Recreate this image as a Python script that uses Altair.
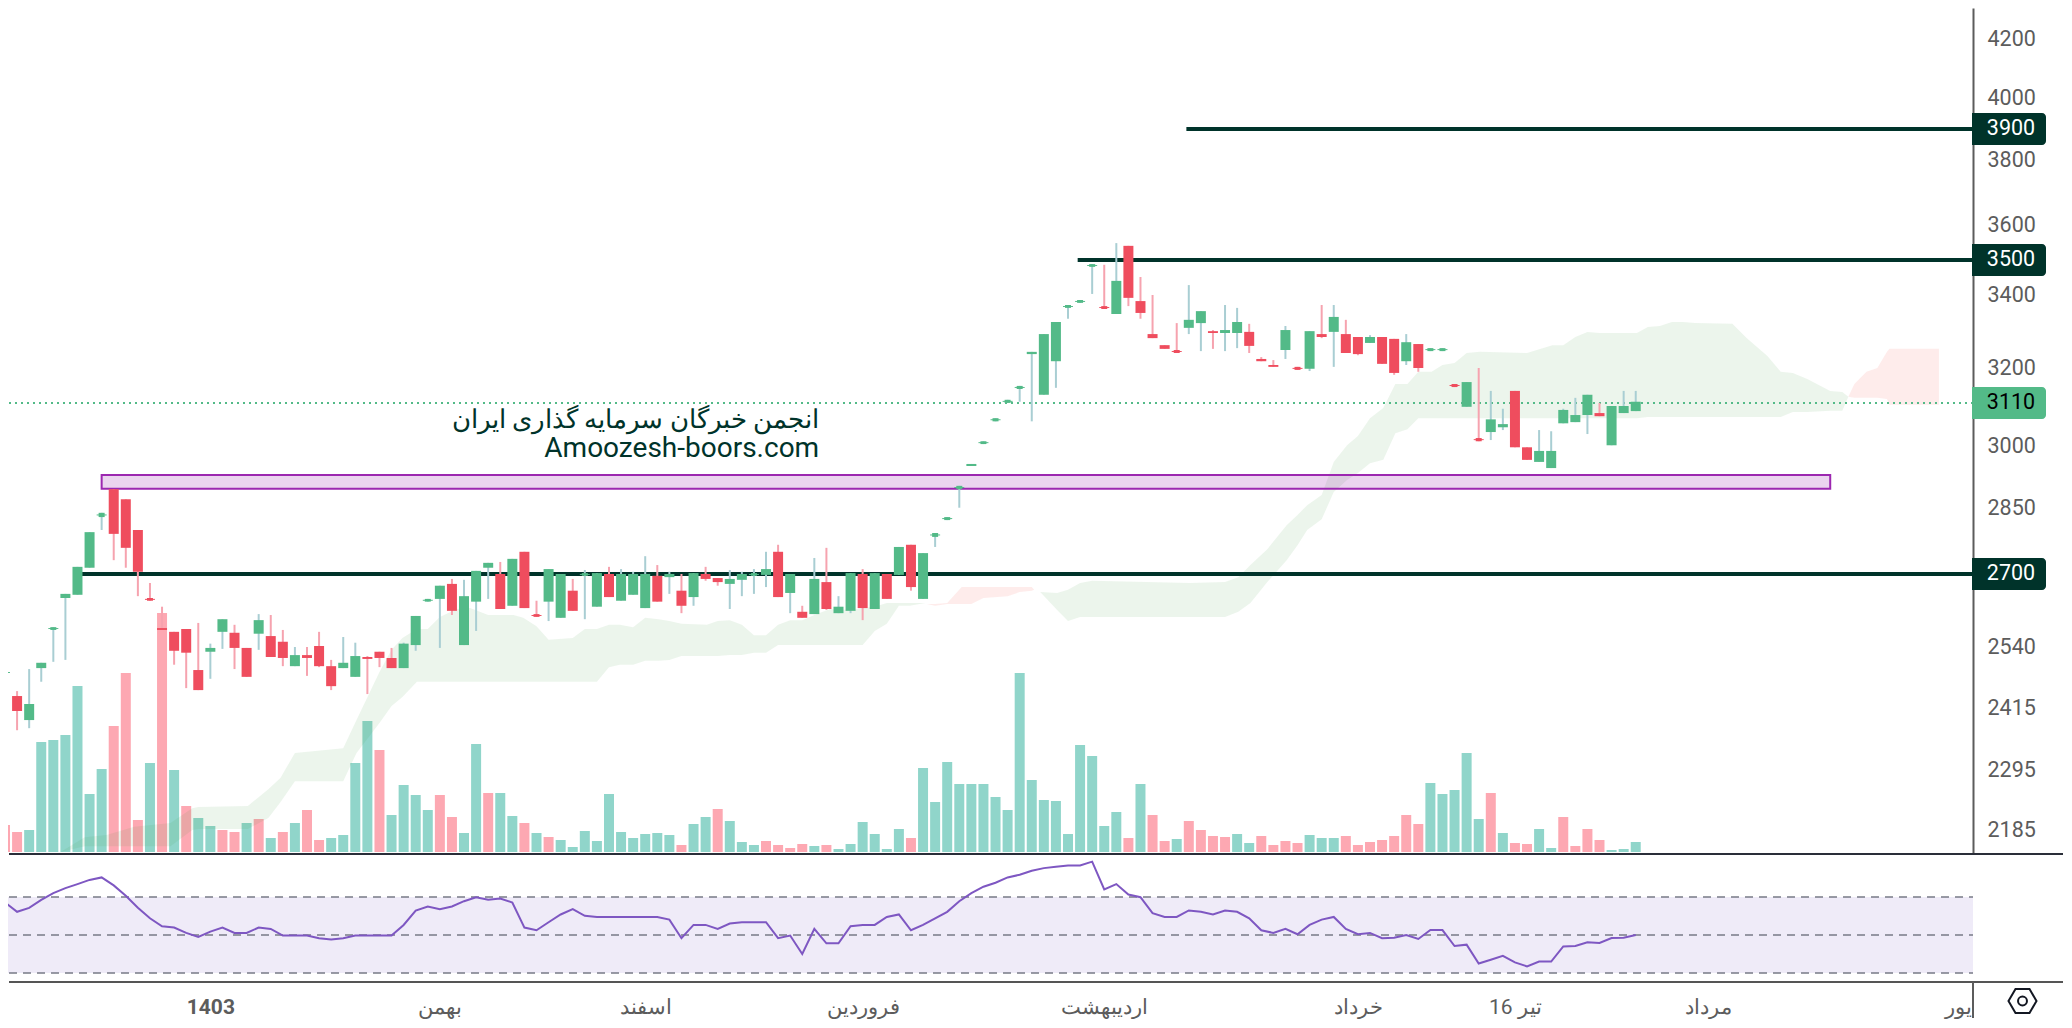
import json
import altair as alt
import pandas as pd

# ---- candles (daily prices) ----
open_ = [2486,2441,2393,2498,2578,2647,2654,2714,2830,2896,2872,2800,2647,2582,2574,2580,2494,2532,2574,2572,
         2540,2570,2565,2553,2502,2525,2544,2502,2498,2480,2521,2532,2519,2498,2546,2639,2645,2678,2546,2639,
         2714,2700,2630,2750,2612,2639,2604,2663,2696,2628,2700,2641,2654,2625,2696,2693,2663,2649,2700,2691,
         2678,2687,2696,2698,2750,2658,2617,2612,2682,2614,2619,2700,2623,2700,2698,2766,2645,2784,2823,2896,
         2952,3006,3063,3110,3146,3238,3131,3219,3364,3378,3480,3369,3347,3541,3383,3292,3262,3249,3309,3322,
         3300,3295,3295,3298,3225,3209,3249,3204,3199,3292,3298,3292,3284,3268,3284,3279,3219,3265,3246,3246,
         3159,3100,3021,3036,3048,3141,2998,2962,2947,3058,3061,3079,3084,3003,3084,3089]
close = [2492,2411,2425,2509,2584,2656,2716,2795,2840,2791,2759,2705,2641,2578,2534,2530,2453,2540,2601,2540,
         2480,2599,2521,2519,2525,2519,2502,2461,2509,2523,2517,2519,2498,2549,2608,2645,2674,2619,2651,2707,
         2725,2623,2734,2625,2606,2711,2700,2619,2702,2702,2649,2700,2700,2700,2639,2700,2630,2702,2689,2682,
         2689,2700,2702,2711,2649,2700,2604,2689,2623,2628,2702,2625,2702,2645,2761,2671,2747,2793,2830,2904,
         2957,3013,3071,3118,3154,3244,3292,3325,3372,3386,3488,3361,3440,3392,3350,3281,3252,3241,3331,3355,
         3295,3303,3325,3260,3219,3204,3303,3196,3300,3284,3339,3241,3238,3284,3212,3188,3270,3201,3254,3254,
         3151,3164,3013,3068,3056,2998,2967,2989,2989,3092,3079,3131,3076,3102,3102,3113]
high = [2500,2451,2496,2509,2584,2656,2716,2795,2840,2896,2872,2800,2680,2628,2574,2580,2593,2549,2601,2589,
        2540,2612,2610,2578,2542,2542,2574,2515,2563,2551,2523,2532,2540,2551,2608,2645,2674,2689,2687,2707,
        2725,2727,2734,2750,2641,2711,2700,2689,2709,2702,2716,2711,2705,2740,2720,2705,2700,2702,2716,2691,
        2709,2705,2711,2750,2766,2700,2630,2736,2759,2651,2702,2711,2702,2700,2761,2766,2747,2793,2830,2904,
        2957,3013,3071,3118,3154,3244,3292,3325,3372,3386,3488,3486,3549,3541,3451,3400,3262,3322,3428,3355,
        3303,3372,3364,3320,3230,3222,3314,3204,3300,3372,3372,3331,3284,3289,3284,3279,3292,3265,3254,3254,
        3159,3164,3201,3141,3095,3141,2998,3041,3038,3095,3123,3131,3110,3102,3141,3141]
low = [2405,2373,2377,2470,2511,2515,2654,2714,2800,2731,2714,2651,2641,2578,2505,2457,2453,2476,2538,2496,
       2480,2536,2521,2502,2502,2482,2500,2453,2498,2480,2445,2500,2498,2498,2534,2639,2540,2610,2546,2576,
       2645,2623,2630,2625,2606,2597,2604,2619,2601,2628,2649,2641,2654,2625,2639,2656,2614,2630,2685,2674,
       2623,2651,2656,2671,2649,2614,2604,2612,2621,2614,2614,2599,2623,2645,2698,2663,2645,2761,2823,2852,
       2952,3006,3063,3110,3113,3063,3131,3149,3334,3378,3403,3361,3347,3369,3334,3281,3252,3241,3292,3246,
       3252,3246,3254,3241,3219,3204,3225,3196,3193,3281,3204,3241,3235,3268,3212,3183,3209,3191,3246,3246,
       3151,3100,3013,3016,3041,2998,2967,2962,2947,3058,3061,3031,3076,3003,3084,3089]
doji_days = [0,4,8,12,35,44,48,62,77,78,79,81,82,83,84,88,89,90,91,97,107,118,119,120,122]

# ---- volume (arbitrary units, only proportions are visible) ----
volume = [27,20,22,110,112,117,166,58,83,126,179,32,89,239,82,46,34,26,22,20,29,33,14,20,29,42,12,14,17,89,
          131,102,37,67,57,42,57,35,19,108,59,59,36,29,19,15,12,5,21,11,58,20,14,18,19,17,7,28,
          35,43,31,10,7,11,7,4,8,6,7,3,8,30,18,3,23,14,84,50,90,68,68,68,55,42,179,72,52,51,18,107,96,26,40,14,
          68,37,11,13,31,22,16,15,18,9,16,7,11,9,17,14,14,16,7,10,12,16,
          37,28,69,58,62,99,33,59,19,9,8,23,4,35,6,23,12,2,3,10]
volume_side = list("rrgggggggr" "rrgrgrggrr" "grgrgrrggg" "grggggrrgg" "rggrgrgggg" "ggggggrggr"
                   "gggrrrrgrg" "gggggrgggg" "gggggggggg" "gggrgrrgrr" "rrggrrrrgg" "grrrrrrrgg"
                   "gggrgrrggr" "rrrggg")

# ---- RSI ----
rsi = [67.1,62.2,64.3,68.5,72,74.7,76.8,79,80.3,76.1,70.6,64.3,58.8,54.6,53.9,51.1,49,51.8,53.9,51.1,
       51.1,53.9,53.2,49.7,49.7,49.7,48.3,47.6,48.3,49.7,49.7,49.7,49.7,55.3,62.9,65,63.6,65,67.8,69.9,
       68.5,69.2,67.1,53.9,52.5,56.7,60.8,63.6,60.1,59.5,59.5,59.5,59.5,59.5,59.5,58.1,48.3,55.3,55.3,53.2,
       56,56.7,56.7,56.7,48.3,49.7,40,53.2,45.6,45.6,54.6,55.3,55.3,59.5,60.8,52.5,55.3,58.8,62.2,67.8,
       72,75.4,77.5,80.3,81.7,83.8,85.2,85.9,86.6,86.6,88.6,74,76.8,71.3,69.9,61.5,59.5,59.5,62.9,62.2,
       60.8,62.9,62.2,58.8,52.5,51.1,53.2,50.4,55.3,58.1,59.5,53.2,50.4,51.1,48.3,48.6,50,47.9,52.6,52.6,
       44.2,44.9,35,37,39,35.6,33.5,36,36,44,44.2,46.2,45.8,48.4,48.6,50]

# ---- cloud outlines (bar position, upper span, lower span) ----
green1_x = [4.6,6.6,8.4,10.7,13.7,15.5,16,20.1,21.8,22.8,24,28,29.1,31,32,32.9,34.1,35,36,37.4,38.5,40,42.1,42.9,44,45,47,48,49,
            50,50.9,52,53,54.1,55,56,58.1,59,60,61,62,63,64,65,66,67,68.3,70,71,72,73,74,74.9,75.7,76.2]
green1_top = [2146,2172,2176,2191,2198,2225,2227,2229,2260,2281,2329,2338,2393,2490,2536,2561,2580,2580,2606,2623,2625,2610,2610,2604,2586,2557,2561,2580,2580,
              2589,2589,2584,2604,2601,2597,2591,2589,2597,2599,2589,2567,2567,2589,2599,2599,2610,2623,2621,2625,2628,2636,2636,2636,2636,2634]
green1_bot = [2146,2156,2156,2156,2156,2185,2187,2187,2207,2236,2275,2275,2329,2387,2421,2439,2470,2470,2470,2470,2470,2470,2470,2470,2470,2470,2470,2470,2470,
              2500,2505,2505,2513,2513,2515,2523,2523,2523,2525,2525,2530,2530,2546,2546,2546,2546,2546,2546,2546,2576,2591,2630,2630,2634,2634]
pink1_x = [76.3,77,78,79.2,80,81,83,84,85,85.2]
pink1_top = [2634,2634,2636,2671,2671,2671,2671,2671,2671,2665]
pink1_bot = [2634,2630,2634,2634,2634,2647,2651,2660,2663,2665]
green2_x = [85.7,87.1,88,89,90,98.1,101,102.1,103.1,104.5,106.1,107,107.8,109,110,111.1,112,113,114.1,115.1,116.1,117,118.1,119,120,121,
            122.1,126,128.1,129,130,131,132,135.1,136,137,138,138.9,139.9,143,144.2,145.9,147,148,149.2,151.1,152.1,152.6]
green2_top = [2660,2658,2665,2680,2685,2680,2682,2693,2720,2756,2811,2835,2858,2882,2962,3003,3026,3071,3097,3159,3159,3191,3191,3209,3214,3241,
              3244,3241,3262,3262,3284,3298,3295,3295,3311,3314,3325,3325,3322,3320,3281,3233,3191,3188,3172,3141,3138,3126]
green2_bot = [2660,2621,2597,2606,2606,2606,2606,2617,2636,2682,2731,2765,2800,2825,2889,2918,2935,2959,2967,3033,3043,3071,3071,3071,3071,3071,
              3071,3071,3071,3071,3071,3071,3071,3071,3074,3074,3074,3074,3074,3074,3074,3074,3074,3087,3087,3090,3090,3126]
pink2_x = [152.6,153.1,154.1,155,155.8,156,160.1]
pink2_top = [3126,3159,3191,3201,3244,3252,3252]
pink2_bot = [3126,3123,3123,3123,3120,3105,3105]

# ---- drawings ----
zone_span = [8, 151.1]
zone_prices = [2897, 2930]
levels = [2700, 3500, 3900]
level_starts = [6, 88.8, 97.8]
last_price = [3110]
price_ticks = [4200,4000,3800,3600,3400,3200,3000,2850,2540,2415,2295,2185]
rsi_ticks = [40, 80]
rsi_bands = [30, 50, 70]
month_pos = [17, 36, 53, 71, 91, 112, 125, 141, 161.7]
month_labels = ["1403", "بهمن", "اسفند", "فروردین", "اردیبهشت", "خرداد", "16 تیر", "مرداد", "یور"]
note_lines = ["انجمن خبرگان سرمایه گذاری ایران", "Amoozesh-boors.com"]
note_prices = [3046, 2974]
note_pos = [67.4, 67.4]
note_sizes = [25.8, 28]

# ---- style ----
W, H1, H2 = 1965, 846, 128
RIGHT_END = 2055
GREEN, RED = "#53BA88", "#EF4D5E"
GREEN_W, RED_W = "#A9CED3", "#F6A3AF"
GREEN_V, RED_V = "#90D5CA", "#FDA8B2"
DARK = "#00332A"
AXC = "#5C5C5C"
FONT = "Roboto"

x_scale = alt.Scale(domain=[0.248, 162.92], nice=False, zero=False, padding=0)
p_scale = alt.Scale(type="log", domain=[2142.3, 4310], nice=False)
X = lambda f: alt.X(f, type="quantitative", scale=x_scale, axis=None)
Y = lambda f, axis=None: alt.Y(f, type="quantitative", scale=p_scale, axis=axis)

cd = pd.DataFrame({"i": range(len(open_)), "o": open_, "c": close, "h": high, "l": low})
cd["up"] = cd.c >= cd.o
cd["top"] = cd[["o", "c"]].max(axis=1)
cd["bot"] = cd[["o", "c"]].min(axis=1)
cd["doji"] = cd.i.isin(doji_days)
cd["mid"] = (cd.o + cd.c) / 2
cd["m1"] = cd.mid * 1.0004
cd["m0"] = cd.mid * 0.9996
up, dn, doji, plain = cd[cd.up], cd[~cd.up], cd[cd.doji], cd[~cd.doji]

vd = pd.DataFrame({"i": range(len(volume)), "v": volume, "s": volume_side})
v_y = alt.Y("v:Q", scale=alt.Scale(domain=[-2, 844], nice=False, zero=False), axis=None)
vol_layers = [
    alt.Chart(vd[vd.s == s]).mark_bar(size=10, color=c, orient="vertical", clip=True).encode(x=X("i"), y=v_y)
    for s, c in (("g", GREEN_V), ("r", RED_V))
]

def cloud(xs, top, bot, color):
    d = pd.DataFrame({"x": xs, "t": top, "b": bot})
    return alt.Chart(d).mark_area(color=color, opacity=0.1, orient="vertical", clip=True).encode(
        x=X("x"), y=Y("t"), y2=alt.Y2("b"))

cloud_layers = [
    cloud(green1_x, green1_top, green1_bot, "#43A047"),
    cloud(pink1_x, pink1_top, pink1_bot, "#F44336"),
    cloud(green2_x, green2_top, green2_bot, "#43A047"),
    cloud(pink2_x, pink2_top, pink2_bot, "#F44336"),
]

zone = alt.Chart(pd.DataFrame({"a": [zone_span[0]], "b": [zone_span[1]], "p0": [zone_prices[0]], "p1": [zone_prices[1]]})).mark_rect(
    fill="#9C27B0", fillOpacity=0.2, stroke="#9C27B0", strokeWidth=2).encode(
    x=X("a"), x2=alt.X2("b"), y=Y("p0"), y2=alt.Y2("p1"))

ld = pd.DataFrame({"s": level_starts, "p": levels})
lines = alt.Chart(ld).mark_rule(color=DARK, strokeWidth=4).encode(x=X("s"), x2=alt.value(W), y=Y("p"))
lp = pd.DataFrame({"p": last_price})
dotted = alt.Chart(lp).mark_rule(color=GREEN, strokeWidth=2, strokeDash=[2, 4]).encode(
    x=alt.value(1), x2=alt.value(W), y=Y("p"))

def wick(d, c):
    return alt.Chart(d).mark_rule(color=c, strokeWidth=2, clip=True).encode(x=X("i"), y=Y("h"), y2=alt.Y2("l"))

def body(d, c, w, a="top", b="bot"):
    return alt.Chart(d).mark_rule(color=c, strokeWidth=w, clip=True).encode(x=X("i"), y=Y(a), y2=alt.Y2(b))

candle_layers = [
    wick(up, GREEN_W), wick(dn, RED_W),
    body(plain[plain.up], GREEN, 10), body(plain[~plain.up], RED, 10),
    body(doji[doji.up], GREEN, 6), body(doji[~doji.up], RED, 6),
    body(doji[doji.up], GREEN, 10, "m1", "m0"), body(doji[~doji.up], RED, 10, "m1", "m0"),
]

nd = pd.DataFrame({"t": note_lines, "p": note_prices, "i": note_pos, "z": note_sizes})
notes = [
    alt.Chart(nd.iloc[[k]]).mark_text(align="right", baseline="alphabetic", font=FONT, fontSize=float(note_sizes[k]), color=DARK).encode(
        x=X("i"), y=Y("p"), text="t:N")
    for k in range(2)
]

def tag(d, fill, txt):
    r = alt.Chart(d).mark_rect(height=32, color=fill, cornerRadiusTopRight=4, cornerRadiusBottomRight=4).encode(
        x=alt.value(W - 1), x2=alt.value(2038), y=Y("p"))
    t = alt.Chart(d).mark_text(font=FONT, fontSize=21.5, color=txt, baseline="middle", align="center").encode(
        x=alt.value(2003), y=Y("p"), text=alt.Text("p:Q", format="d"))
    return [r, t]

axis_price = alt.Axis(orient="right", values=price_ticks, ticks=False, grid=False, domain=True, domainColor=AXC,
                      domainWidth=2, labelPadding=14, labelFont=FONT, labelFontSize=21.5, labelColor=AXC,
                      labelOverlap=False, labelAlign="left", labelFlush=False, labelBound=False, format="d", title=None)
axis_layer = alt.Chart(lp).mark_rule(opacity=0).encode(y=Y("p", axis_price))

sep1 = alt.Chart(lp).mark_rule(color="#2A2E39", strokeWidth=2).encode(x=alt.value(1), x2=alt.value(RIGHT_END), y=alt.value(H1))

price_pane = alt.layer(
    *vol_layers, *cloud_layers, zone, lines, dotted, axis_layer, *candle_layers, *notes,
    *tag(ld, DARK, "#FFFFFF"), *tag(lp, GREEN, "#000000"), sep1,
).resolve_scale(y="independent").properties(width=W, height=H1)

# ---- RSI pane ----
r_scale = alt.Scale(domain=[25.26, 92.63], nice=False, zero=False)
label_map = json.dumps({str(p): l for p, l in zip(month_pos, month_labels)}, ensure_ascii=False)
axis_time = alt.Axis(orient="bottom", values=month_pos, labelExpr=f"{label_map}[datum.value]", ticks=False, grid=False,
                     domain=False, labelPadding=14, labelFont=FONT, labelFontSize=21, labelColor=AXC,
                     labelOverlap=False, labelFlush=False, labelBound=False, labelAlign="center", title=None,
                     labelFontWeight=alt.condition("datum.value == 17", alt.value("bold"), alt.value("normal")))
axis_rsi = alt.Axis(orient="right", values=rsi_ticks, ticks=False, grid=False, domain=True, domainColor=AXC,
                    domainWidth=2, labelPadding=14, labelFont=FONT, labelFontSize=21.5, labelColor=AXC,
                    labelOverlap=False, labelAlign="left", labelFlush=False, labelBound=False, format=".2f", title=None)

rd = pd.DataFrame({"i": range(len(rsi)), "r": rsi})
bd = pd.DataFrame({"b": rsi_bands})
hi_lo = pd.DataFrame({"a": [rsi_bands[0]], "b": [rsi_bands[2]]})
band = alt.Chart(hi_lo).mark_rect(color="#7E57C2", opacity=0.12).encode(
    x=alt.value(0), x2=alt.value(W), y=alt.Y("a:Q", scale=r_scale, axis=None), y2=alt.Y2("b"))
dashes = alt.Chart(bd).mark_rule(color="#787B86", strokeWidth=1.5, strokeDash=[8, 6]).encode(
    x=alt.value(1), x2=alt.value(W), y=alt.Y("b:Q", scale=r_scale, axis=None))
rsi_line = alt.Chart(rd).mark_line(color="#7E57C2", strokeWidth=2, clip=True).encode(
    x=alt.X("i:Q", scale=x_scale, axis=axis_time), y=alt.Y("r:Q", scale=r_scale, axis=axis_rsi))
sep2 = alt.Chart(lp).mark_rule(color="#555555", strokeWidth=2).encode(x=alt.value(1), x2=alt.value(RIGHT_END), y=alt.value(H2))
vert = alt.Chart(lp).mark_rule(color=AXC, strokeWidth=2).encode(x=alt.value(W), y=alt.value(H2), y2=alt.value(164))
hexa = alt.Chart(lp).mark_point(shape="M -1 0 L -0.5 -0.866 L 0.5 -0.866 L 1 0 L 0.5 0.866 L -0.5 0.866 Z",
                                size=784, filled=False, color="#131722", strokeWidth=2, opacity=1).encode(
    x=alt.value(2014.5), y=alt.value(147))
dot = alt.Chart(lp).mark_point(shape="circle", size=80, filled=False, color="#131722", strokeWidth=2, opacity=1).encode(
    x=alt.value(2014.5), y=alt.value(147))

rsi_pane = alt.layer(band, dashes, rsi_line, sep2, vert, hexa, dot).properties(width=W, height=H2)

chart = alt.vconcat(price_pane, rsi_pane, spacing=0, bounds="flush").properties(padding=0).configure_view(strokeWidth=0)
chart.save("out.html", embed_options={"renderer": "svg", "actions": False})
